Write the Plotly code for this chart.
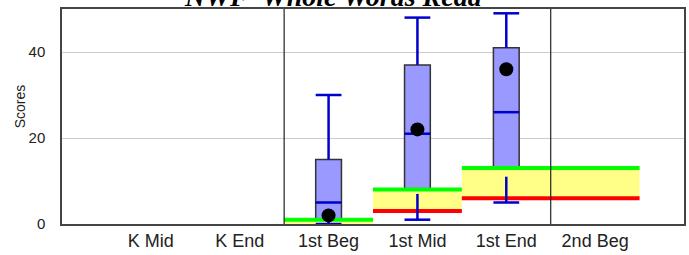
import plotly.graph_objects as go

# ---- data ----
categories = ["K Mid", "K End", "1st Beg", "1st Mid", "1st End", "2nd Beg"]
# box statistics (None where no data)
q_low = [None, None, 0, 1, 5, None]       # lower whisker
q1 = [None, None, 1, 7, 11, None]
median = [None, None, 5, 21, 26, None]
q3 = [None, None, 15, 37, 41, None]
q_high = [None, None, 30, 48, 49, None]   # upper whisker
mean = [None, None, 2, 22, 36, None]
# benchmark band (red = lower / green = upper)
bench_low = [None, None, -1, 3, 6, 6]
bench_high = [None, None, 1, 8, 13, 13]
period_breaks = [1.5, 4.5]
y_ticks = [0, 20, 40]

title_text = "NWF  Whole Words Read"
y_title = "Scores"

# ---- style ----
W, H = 689, 255
ML, MR, MT, MB = 62, 5, 9, 31
BOX_W = 0.29
HALF = BOX_W / 2

fig = go.Figure()

# benchmark bands
for i, (lo, hi) in enumerate(zip(bench_low, bench_high)):
    if lo is None:
        continue
    x0, x1 = i - 0.5, i + 0.5
    fig.add_trace(go.Scatter(x=[x0, x1, x1, x0, x0], y=[lo, lo, hi, hi, lo], mode="lines",
                             fill="toself", fillcolor="#ffff88", line=dict(width=0),
                             hoverinfo="skip", showlegend=False))
for i, (lo, hi) in enumerate(zip(bench_low, bench_high)):
    if lo is None:
        continue
    x0, x1 = i - 0.5, i + 0.5
    fig.add_trace(go.Scatter(x=[x0, x1], y=[lo, lo], mode="lines",
                             line=dict(color="#ff0000", width=4), showlegend=False))
    fig.add_trace(go.Scatter(x=[x0, x1], y=[hi, hi], mode="lines",
                             line=dict(color="#00ff00", width=4), showlegend=False))

# whiskers
for i in range(len(categories)):
    if q1[i] is None:
        continue
    wx, wy = [], []
    for a, b in ((q_low[i], q1[i]), (q3[i], q_high[i])):
        wx += [i, i, None]
        wy += [a, b, None]
    for v in (q_low[i], q_high[i]):
        wx += [i - HALF, i + HALF, None]
        wy += [v, v, None]
    fig.add_trace(go.Scatter(x=wx, y=wy, mode="lines", line=dict(color="#0000cc", width=2.5),
                             showlegend=False))

# boxes
xs = [i for i in range(len(categories)) if q1[i] is not None]
fig.add_trace(go.Bar(x=xs, base=[q1[i] for i in xs], y=[q3[i] - q1[i] for i in xs],
                     width=BOX_W, marker=dict(color="#9999ff", line=dict(color="#333333", width=1.5)),
                     showlegend=False))

# medians
mx, my = [], []
for i in xs:
    mx += [i - HALF, i + HALF, None]
    my += [median[i], median[i], None]
fig.add_trace(go.Scatter(x=mx, y=my, mode="lines", line=dict(color="#0000cc", width=2.5),
                         showlegend=False))

# means
fig.add_trace(go.Scatter(x=xs, y=[mean[i] for i in xs], mode="markers",
                         marker=dict(color="black", size=14), cliponaxis=False, showlegend=False))

# period separators
for b in period_breaks:
    fig.add_shape(type="line", x0=b, x1=b, y0=0, y1=1, yref="paper",
                  line=dict(color="#222222", width=1.2))

fig.add_annotation(text="<b><i>" + title_text + "</i></b>", xref="paper", yref="paper",
                   x=0.4365, y=1, xanchor="center", yanchor="bottom", yshift=-5, showarrow=False,
                   font=dict(family="Liberation Serif", size=28, color="black"))

fig.add_annotation(text=y_title, xref="paper", yref="paper", x=0, y=0.545, xshift=-42.5,
                   xanchor="center", yanchor="middle", textangle=-90, showarrow=False,
                   font=dict(family="Liberation Sans", size=14, color="#222"))

fig.update_layout(
    width=W, height=H, margin=dict(l=ML, r=MR, t=MT, b=MB, autoexpand=False),
    paper_bgcolor="white", plot_bgcolor="white", barmode="overlay",
    showlegend=False,
    xaxis=dict(range=[-1, 6], tickvals=list(range(len(categories))), ticktext=categories,
               automargin=False,
               showgrid=False, zeroline=False, showline=True, mirror=True, linecolor="#444444",
               linewidth=1.5, ticks="", tickfont=dict(family="Liberation Sans", size=18, color="#222")),
    yaxis=dict(range=[0, 50], tickvals=y_ticks, showgrid=True, gridcolor="#cccccc", gridwidth=1,
               automargin=False,
               zeroline=False, showline=True, mirror=True, linecolor="#444444", linewidth=1.5,
               ticks="", ticklabelstandoff=12,
               tickfont=dict(family="Liberation Sans", size=15, color="#222")),
)

fig.write_html("out.html", config={"displayModeBar": False},
               post_script="document.body.style.margin='0';document.body.style.overflow='hidden';")
